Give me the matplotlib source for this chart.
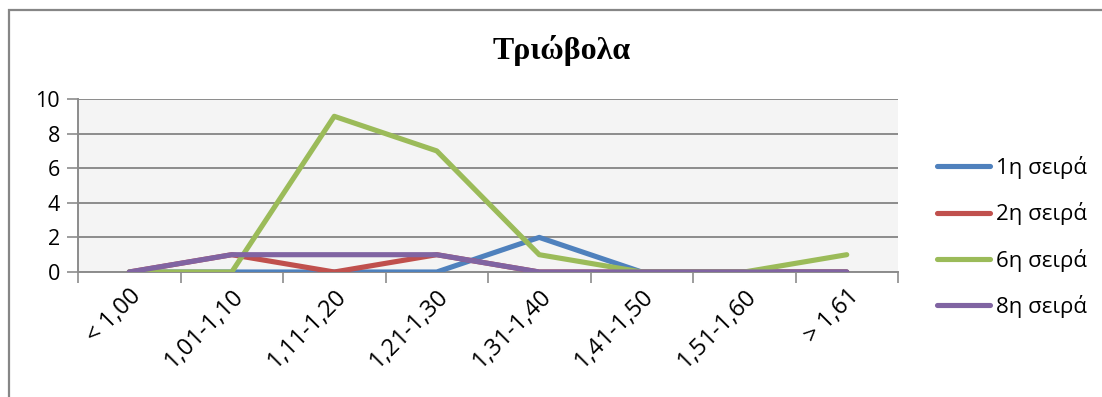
import matplotlib
matplotlib.use("Agg")
import matplotlib.pyplot as plt
from matplotlib.lines import Line2D
from matplotlib.patches import Rectangle

categories = ["< 1,00", "1,01-1,10", "1,11-1,20", "1,21-1,30",
              "1,31-1,40", "1,41-1,50", "1,51-1,60", "> 1,61"]
series_names = ["1η σειρά", "2η σειρά", "6η σειρά", "8η σειρά"]
s1 = [0, 0, 0, 0, 2, 0, 0, 0]
s2 = [0, 1, 0, 1, 0, 0, 0, 0]
s6 = [0, 0, 9, 7, 1, 0, 0, 1]
s8 = [0, 1, 1, 1, 0, 0, 0, 0]
colors = ["#4F81BD", "#C0504D", "#9BBB59", "#8064A2"]
title = "Τριώβολα"

plt.rcParams['font.family'] = ['Open Sans', 'DejaVu Sans']

W, H = 1102, 397
fig = plt.figure(figsize=(W / 100, H / 100), dpi=100)
fig.patch.set_facecolor("white")

# outer chart border
fig.add_artist(Rectangle((8.5 / W, -0.05), 1.2, 1 - 9.5 / H + 0.05,
                         transform=fig.transFigure, fill=False,
                         edgecolor="#868686", linewidth=1.6))

ax = fig.add_axes([78 / W, 1 - 272 / H, (898 - 78) / W, (272 - 99) / H])
ax.set_facecolor("#F4F4F4")

x = list(range(len(categories)))
for name, vals, c in zip(series_names, [s1, s2, s6, s8], colors):
    ax.plot(x, vals, color=c, linewidth=3.7, solid_capstyle="round",
            solid_joinstyle="round", label=name, zorder=3)

ax.set_xlim(-0.5, len(categories) - 0.5)
ax.set_ylim(0, 10)
ax.set_yticks([0, 2, 4, 6, 8, 10])
ax.yaxis.grid(True, color="#8C8C8C", linewidth=1.4)
ax.set_axisbelow(True)

ax.set_xticks(x)
ax.set_xticklabels(categories, rotation=45, ha="right",
                   rotation_mode="anchor", fontsize=17)
ax.tick_params(axis="x", which="major", length=0, pad=9)
ax.set_xticks([i - 0.5 for i in range(len(categories) + 1)], minor=True)
ax.tick_params(axis="x", which="minor", length=8, width=1.2, color="#8C8C8C")
ax.tick_params(axis="y", length=8, width=1.2, color="#8C8C8C",
               labelsize=15.5, pad=5)

for s in ["top", "right"]:
    ax.spines[s].set_visible(False)
for s in ["left", "bottom"]:
    ax.spines[s].set_color("#8C8C8C")
    ax.spines[s].set_linewidth(1.4)

fig.text(562 / W, 1 - 50 / H, title, ha="center", va="center",
         fontsize=23, fontweight="bold", family="Liberation Serif")

handles = [Line2D([0], [0], color=c, linewidth=3.7, solid_capstyle="round")
           for c in colors]
fig.legend(handles, series_names, loc="center left",
           bbox_to_anchor=(937 / W, 1 - 237 / H), frameon=False,
           fontsize=16, handlelength=2.4, handletextpad=0.25,
           labelspacing=1.05, borderpad=0, borderaxespad=0)

fig.savefig("out.png", dpi=100)
